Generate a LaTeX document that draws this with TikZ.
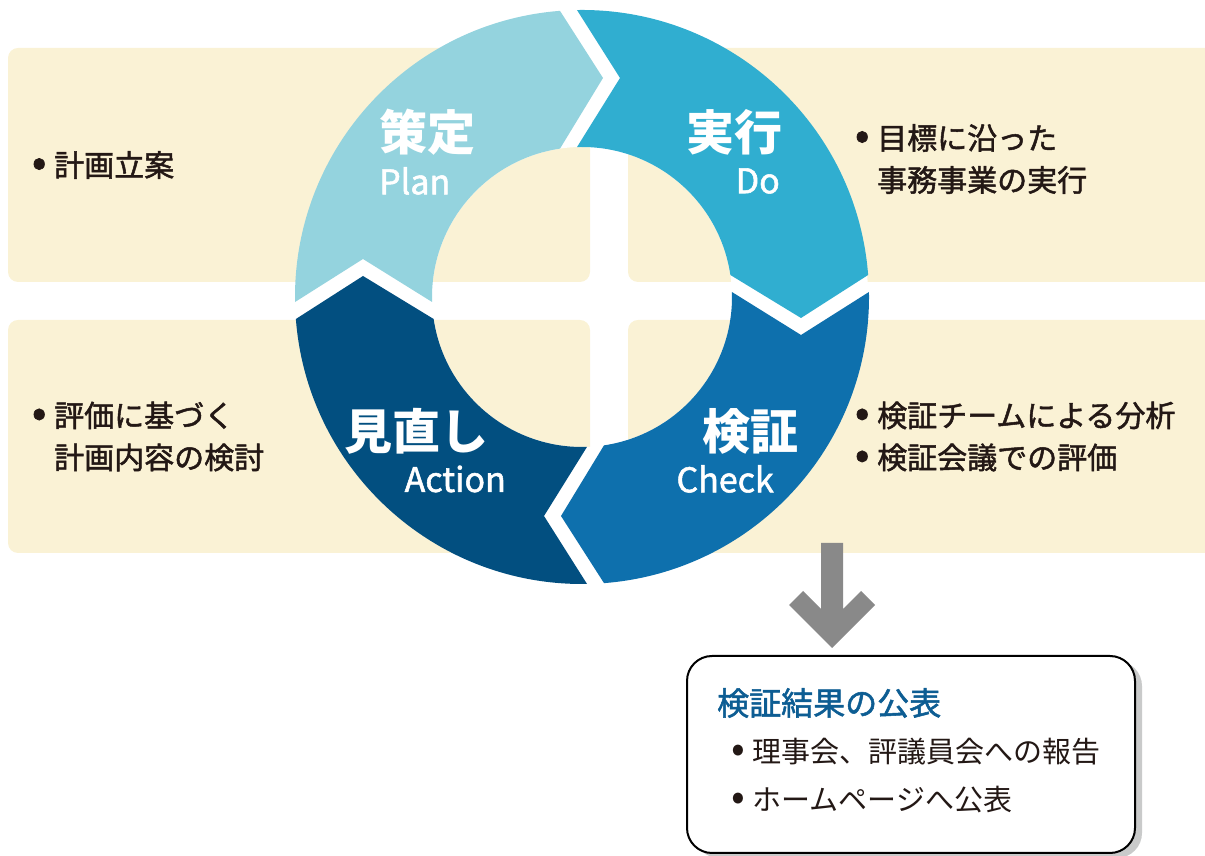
\documentclass[tikz,border=0pt]{standalone}
\usepackage{fontspec}
\usepackage{graphicx}
\setmainfont{Noto Sans CJK JP}
\newfontfamily\itemfont{Noto Sans CJK JP}[FakeBold=1.6]
\usetikzlibrary{positioning,shadows}

\definecolor{planblue}{HTML}{94D3DE}
\definecolor{doblue}{HTML}{30AED0}
\definecolor{checkblue}{HTML}{0E70AD}
\definecolor{actionblue}{HTML}{024F80}
\definecolor{panelcream}{HTML}{FAF2D5}
\definecolor{inkdark}{HTML}{231815}
\definecolor{titleblue}{HTML}{0D5D93}
\definecolor{arrowgray}{HTML}{898989}
\definecolor{shadowgray}{HTML}{C9CACA}

\newcommand{\bul}{\makebox[1em][c]{\scalebox{1.4}{•}}}
\newcommand{\ind}{\hspace*{1em}}

\tikzset{
  panel/.style={fill=panelcream, rounded corners=10pt, outer sep=0pt, inner sep=0pt},
  itemtext/.style={text=inkdark, anchor=west, align=left, inner sep=0pt,
    font=\itemfont\fontsize{30}{42}\selectfont},
  steptitle/.style={text=white, inner sep=0pt, font=\bfseries\fontsize{48}{48}\selectfont},
  stepname/.style={text=white, inner sep=0pt, font=\itemfont\fontsize{34}{34}\selectfont},
  resultbox/.style={draw=black, line width=2pt, fill=white, rounded corners=25pt,
    minimum width=448pt, minimum height=197pt,
    drop shadow={shadow xshift=7pt, shadow yshift=-5pt, fill=shadowgray, opacity=1}},
}

\begin{document}
\begin{tikzpicture}[x=1pt,y=1pt]
	\useasboundingbox (0,0) rectangle (1205,856);
	% panels behind the cycle
	\node[panel, minimum width=582pt, minimum height=234pt] (planpanel) at (299,691) {};
	\node[panel, minimum width=587pt, minimum height=234pt] (dopanel) at (921.5,691) {};
	\node[panel, minimum width=582pt, minimum height=233pt] (actionpanel) at (299,419.5) {};
	\node[panel, minimum width=587pt, minimum height=233pt] (checkpanel) at (921.5,419.5) {};

	\node[itemtext, right=16pt of planpanel.west] (plantext) {\bul 計画立案};
	\node[itemtext, right=16pt of actionpanel.west] (actiontext) {\bul 評価に基づく\\ \ind 計画内容の検討};
	\node[itemtext, right=219pt of dopanel.west, yshift=6pt] (dotext) {\bul 目標に沿った\\ \ind 事務事業の実行};
	\node[itemtext, right=219pt of checkpanel.west] (checktext) {\bul 検証チームによる分析\\ \bul 検証会議での評価};

	% the cycle
	\begin{scope}[shift={(582,559)}]
		\fill[white, even odd rule] (0,0) circle[radius=286] (0,0) circle[radius=150];
		\foreach \ang/\col in {0/doblue, 90/planblue, 180/actionblue, 270/checkblue}
			\fill[rotate=\ang, \col] (91.0:287) arc[start angle=91.0, end angle=4.4, radius=287]
				-- (219,-21) -- (8.43:150) arc[start angle=8.43, end angle=91.91, radius=150]
				-- (38,219) -- cycle;
	\end{scope}

	\node[steptitle, anchor=west] (plantitle) at (379,724) {策定};
	\node[stepname, anchor=west] (planname) at (379,675) {Plan};
	\node[steptitle, anchor=east] (dotitle) at (783,724) {実行};
	\node[stepname, anchor=east] (doname) at (780,675) {Do};
	\node[steptitle, anchor=east] (actiontitle) at (489,425) {見直し};
	\node[stepname, anchor=east] (actionname) at (506,377) {Action};
	\node[steptitle, anchor=east] (checktitle) at (799,425) {検証};
	\node[stepname, anchor=east] (checkname) at (774,377) {Check};

	% result box
	\fill[arrowgray] (821,313) -- (821,247) -- (803,265) -- (789,251) -- (832,208)
		-- (875,251) -- (861,265) -- (843,247) -- (843,313) -- cycle;
	\node[resultbox] (result) at (911,101.5) {};
	\node[anchor=west, inner sep=0pt, text=titleblue, font=\itemfont\fontsize{32}{32}\selectfont]
		(resulttitle) at (717,153) {検証結果の公表};
	\node[itemtext, font=\fontsize{29}{48}\selectfont] (resulttext) at (723.5,80)
		{\bul 理事会、評議員会への報告\\ \bul ホームページへ公表};
\end{tikzpicture}
\end{document}
